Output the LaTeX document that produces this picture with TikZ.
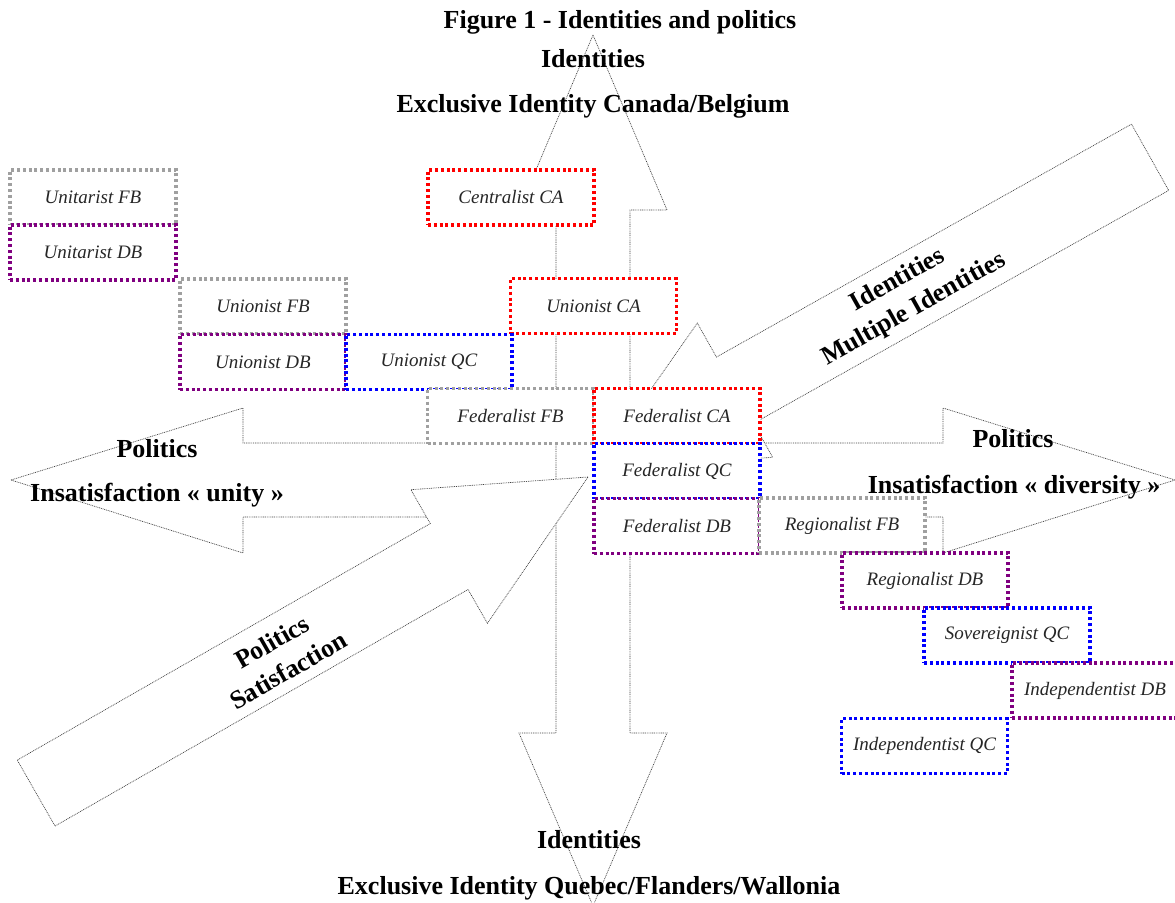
\documentclass[tikz,border=0pt]{standalone}
\usepackage{fontspec}
\setmainfont{Liberation Serif}
\definecolor{bgray}{RGB}{160,160,160}
\definecolor{bpurple}{RGB}{128,0,128}
\definecolor{bblue}{RGB}{0,0,255}
\definecolor{bred}{RGB}{255,0,0}
\begin{document}
\begin{tikzpicture}[x=1pt,y=-1pt,
  blk/.style={draw=black!75, fill=white, line width=0.7pt, dash pattern=on 0.9pt off 0.9pt, line join=miter},
  pbox/.style={draw=#1, fill=white, line width=3.2pt, dash pattern=on 3pt off 2.8pt,
    minimum width=166pt, minimum height=55pt, inner sep=0pt,
    font=\fontsize{19}{22}\selectfont\itshape, text=black!85},
  lbl/.style={font=\fontsize{26}{31}\selectfont\bfseries, inner sep=0pt, align=center},
  rlbl/.style={font=\fontsize{26}{33}\selectfont\bfseries, inner sep=0pt, align=center},
]
\useasboundingbox (0,0) rectangle (1175,902);
\clip (0,0) rectangle (1175,902);

% horizontal double arrow (politics)
\draw[blk] (11,480) -- (243,408) -- (243,443) -- (943,443) -- (943,408) -- (1175,480)
  -- (943,553) -- (943,517) -- (243,517) -- (243,553) -- cycle;
% vertical double arrow (identities)
\draw[blk] (593,35) -- (667,210) -- (630,210) -- (630,733) -- (667,733) -- (593,906)
  -- (519,733) -- (556,733) -- (556,210) -- (519,210) -- cycle;
% diagonal arrow: multiple identities
\draw[blk, shift={(595.5,468.5)}, rotate=29.3] (0,0) -- (160,77) -- (160,38) -- (636,38)
  -- (636,-38) -- (160,-38) -- (160,-77) -- cycle;
% diagonal arrow: satisfaction
\draw[blk, shift={(588,477)}, rotate=209.8] (0,0) -- (160,77) -- (160,38) -- (636,38)
  -- (636,-38) -- (160,-38) -- (160,-77) -- cycle;

% boxes
\node[pbox=bgray]   (unitFB) at (93,197.5)  {Unitarist FB};
\node[pbox=bpurple] (unitDB) at (93,252.5)  {Unitarist DB};
\node[pbox=bred]    (centCA) at (511,197.5) {Centralist CA};
\node[pbox=bgray]   (unioFB) at (263,306.5) {Unionist FB};
\node[pbox=bred]    (unioCA) at (593.5,306) {Unionist CA};
\node[pbox=bpurple] (unioDB) at (263,362)   {Unionist DB};
\node[pbox=bblue]   (unioQC) at (429,362)   {Unionist QC};
\node[pbox=bgray]   (fedFB)  at (510.5,416) {Federalist FB};
\node[pbox=bred]    (fedCA)  at (677,416)   {Federalist CA};
\node[pbox=bblue]   (fedQC)  at (677,471)   {Federalist QC};
\node[pbox=bpurple] (fedDB)  at (677,526)   {Federalist DB};
\node[pbox=bgray]   (regFB)  at (842,525.5) {Regionalist FB};
\node[pbox=bpurple] (regDB)  at (925,580.5) {Regionalist DB};
\node[pbox=bblue]   (souQC)  at (1007,635.5) {Sovereignist QC};
\node[pbox=bpurple] (indDB)  at (1095,690.5) {Independentist DB};
\node[pbox=bblue]   (indQC)  at (924.5,746) {Independentist QC};

% labels
\node[lbl] (title)  at (620,22)  {Figure 1 - Identities and politics};
\node[lbl] (idtop)  at (593,59)  {Identities};
\node[lbl] (exctop) at (593,106) {Exclusive Identity Canada/Belgium};
\node[lbl] (polL)   at (157,449) {Politics};
\node[lbl] (insL)   at (157,495) {Insatisfaction « unity »};
\node[lbl] (polR)   at (1013,439) {Politics};
\node[lbl] (insR)   at (1014,487) {Insatisfaction « diversity »};
\node[lbl] (idbot)  at (589,840) {Identities};
\node[lbl] (excbot) at (589,888) {Exclusive Identity Quebec/Flanders/Wallonia};
\node[rlbl, rotate=29.3] (multi) at (906,295) {Identities\\Multiple Identities};
\node[rlbl, rotate=29.8] (sat) at (280,656) {Politics\\Satisfaction};
\end{tikzpicture}
\end{document}
